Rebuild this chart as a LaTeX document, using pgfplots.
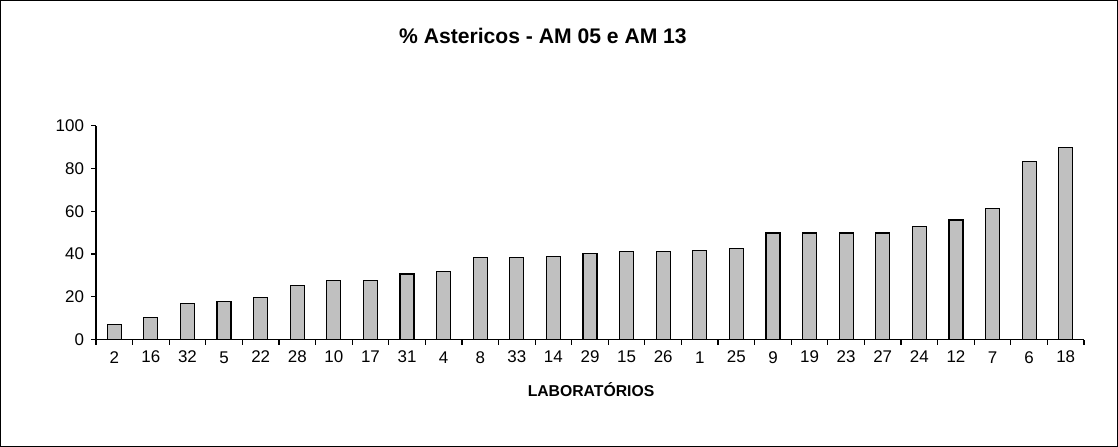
\documentclass[border=0pt]{standalone}
\usepackage{pgfplots}
\pgfplotsset{compat=1.18}
\usepackage{fontspec}
\setmainfont{Liberation Sans}
\definecolor{bargray}{RGB}{192,192,192}
\newcommand{\sd}[1]{\raisebox{-0.7bp}[\height][\depth]{#1}\hspace{5bp}}
\begin{document}
\begin{tikzpicture}
\useasboundingbox (0,0) rectangle (559bp,223.5bp);
\draw[line width=0.6bp] (0.3bp,0.3bp) rectangle (558.7bp,223.2bp);
\begin{axis}[
  at={(48bp,53.75bp)}, anchor=south west,
  scale only axis, width=494bp, height=106.9bp,
  xmin=-0.5, xmax=26.5, ymin=0, ymax=100,
  axis lines=left, axis line style={-, black, line width=0.6bp},
  ytick={0,20,...,100},
  xtick={0,...,26},
  xticklabels={\sd{2},16,32,\sd{5},22,28,10,17,31,\sd{4},\sd{8},33,14,29,15,26,\sd{1},25,\sd{9},19,23,27,24,12,\sd{7},\sd{6},18},
  minor xtick={-0.5,0.5,...,26.5},
  major x tick style={draw=none},
  minor x tick style={black, line width=0.6bp},
  ytick style={black, line width=0.6bp},
  tick align=outside,
  major tick length=2.5bp, minor tick length=2.5bp,
  ticklabel style={font=\fontsize{8.5}{10}\selectfont},
  xticklabel style={yshift=0.5bp},
  /pgf/number format/assume math mode=true,
  ybar, bar width=7bp,
]
\addplot[fill=bargray, draw=black, line width=0.6bp] coordinates {
(0,7.2) (1,10.3) (2,16.8) (3,17.9) (4,19.7) (5,25.1) (6,27.5) (7,27.5) (8,30.6) (9,31.7)
(10,38.4) (11,38.4) (12,39.0) (13,40.1) (14,41.3) (15,41.3) (16,41.8) (17,42.6) (18,49.8)
(19,49.8) (20,49.8) (21,49.8) (22,52.7) (23,55.9) (24,61.2) (25,83.2) (26,89.9)
};
\end{axis}
\node[font=\fontsize{10.6}{12}\selectfont\bfseries] at (271.5bp,205.5bp) {\% Astericos - AM 05 e AM 13};
\node[font=\fontsize{7.9}{9}\selectfont\bfseries] at (295.5bp,28.5bp) {LABORATÓRIOS};
\end{tikzpicture}
\end{document}
